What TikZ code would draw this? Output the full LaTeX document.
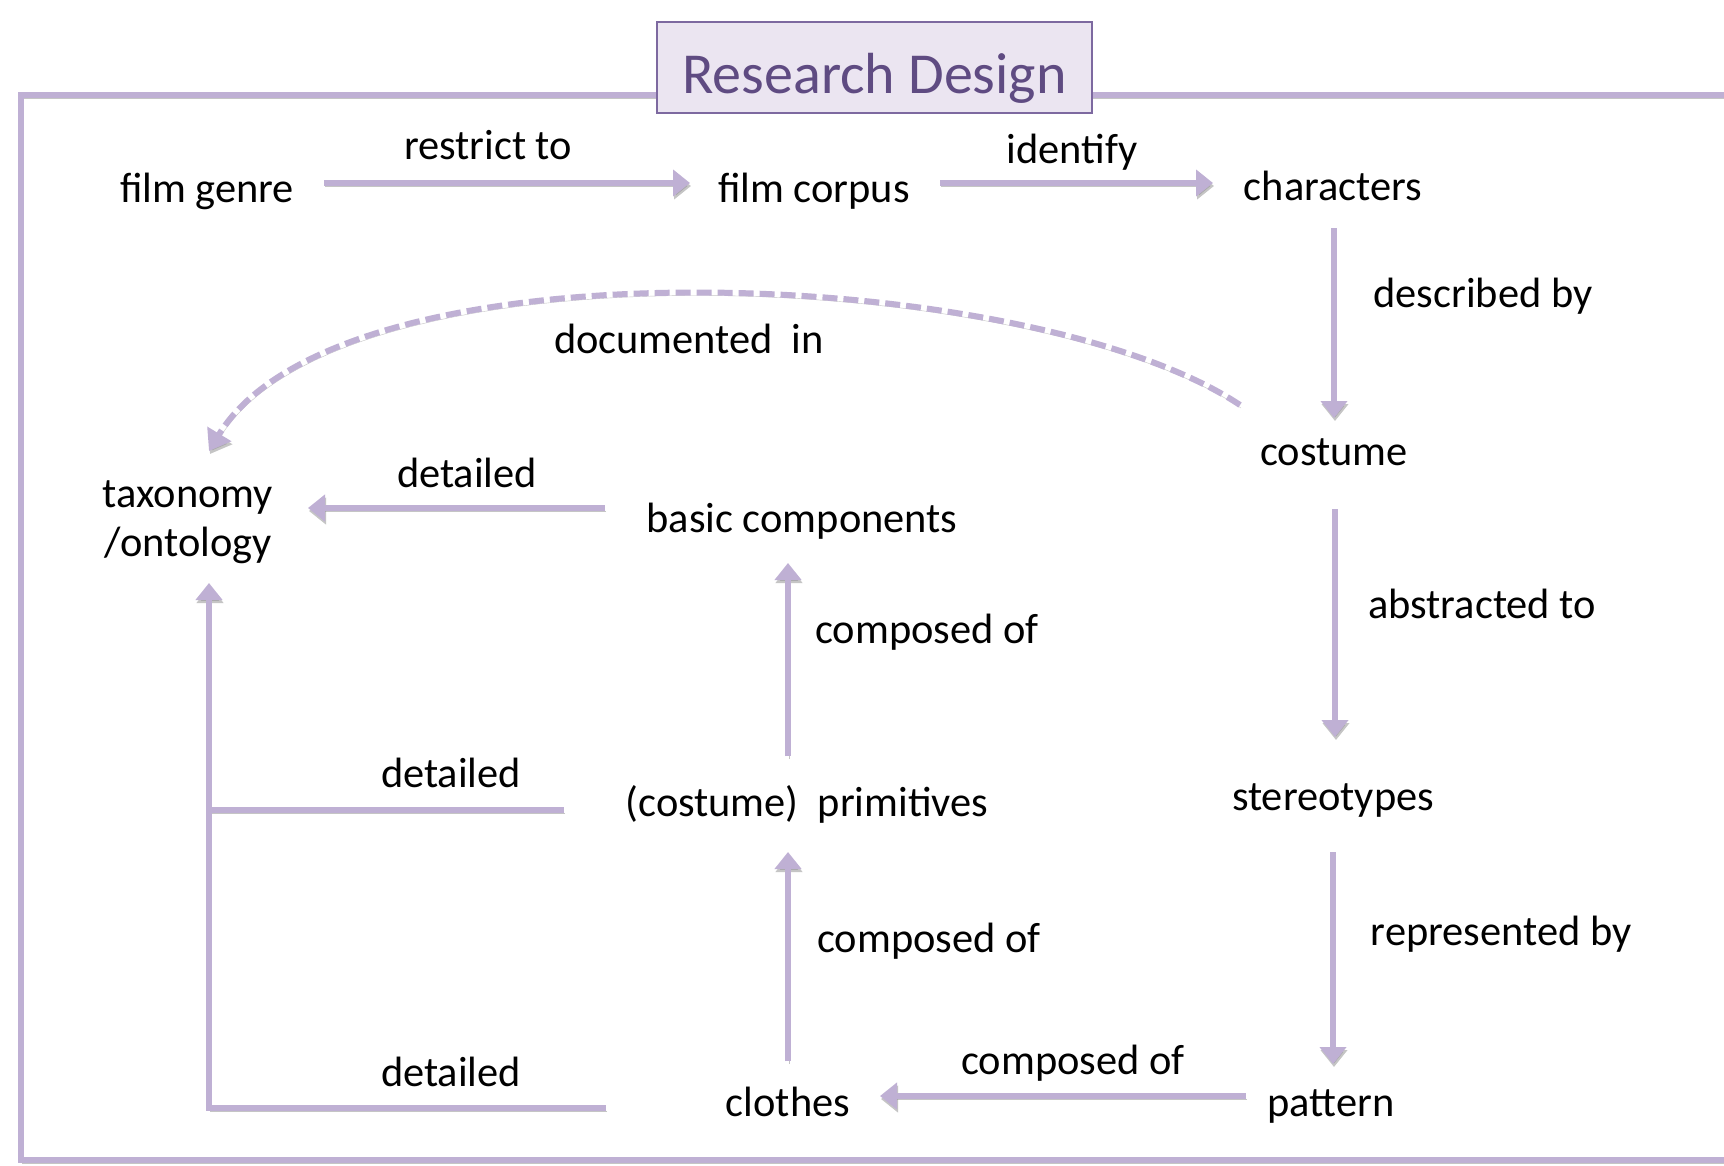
\documentclass[tikz,border=0pt]{standalone}
\usepackage{fontspec}
\setmainfont{Carlito}
\usetikzlibrary{arrows.meta,calc}
\definecolor{lav}{RGB}{191,176,212}
\definecolor{titlefill}{RGB}{235,229,241}
\definecolor{titledraw}{RGB}{125,105,160}
\definecolor{titletext}{RGB}{95,75,130}
\begin{document}
\begin{tikzpicture}[x=1pt,y=-1pt,
  lbl/.style={inner sep=0pt, text height=33pt, text depth=7.5pt, font=\fontsize{42.4}{50}\selectfont},
  shad/.style={preaction={draw=black!45, opacity=0.5, transform canvas={shift={(1pt,-3pt)}}}},
  conn/.style={draw=lav, line width=5.5pt, shad},
  arr/.style={conn, -{Triangle[length=17pt,width=26pt]}},
  dasharr/.style={draw=lav, line width=6pt, shad, dash pattern=on 15pt off 6pt, -{Triangle[length=20pt,width=27pt]}},
]
\useasboundingbox (0,0) rectangle (1724,1165);
\fill[white] (0,0) rectangle (1724,1165);
% frame
\draw[conn] (21,95) rectangle (1760,1160);
% title
\node[draw=titledraw, fill=titlefill, line width=2pt, minimum width=435pt, minimum height=91pt, inner sep=0pt, text height=60pt, text depth=8pt, text=titletext, font=\fontsize{58}{62}\selectfont] (title) at (874.5,67.5) {Research Design};

% main nodes
\node[lbl] (genre) at (207,190) {film genre};
\node[lbl] (corpus) at (814,190) {film corpus};
\node[lbl] (chars) at (1333,188) {characters};
\node[lbl] (costume) at (1334,453) {costume};
\node[lbl] (stereo) at (1333,798) {stereotypes};
\node[lbl] (pattern) at (1331,1104) {pattern};
\node[lbl] (clothes) at (788,1104) {clothes};
\node[lbl] (prim) at (807,804) {(costume)~~primitives};
\node[lbl] (basic) at (802,520) {basic components};
\node[lbl] (tax1) at (188,495) {taxonomy};
\node[lbl] (tax2) at (188,544) {/ontology};

% labels
\node[lbl] (lrestrict) at (488,147) {restrict to};
\node[lbl] (lidentify) at (1072,151) {identify};
\node[lbl] (ldescribed) at (1483,295) {described by};
\node[lbl] (ldocumented) at (689,341) {documented~~in};
\node[lbl] (labstracted) at (1482,606) {abstracted to};
\node[lbl] (lrepresented) at (1501,933) {represented by};
\node[lbl] (lcompB) at (1073,1062) {composed of};
\node[lbl] (lcompM) at (929,940) {composed of};
\node[lbl] (lcompU) at (927,631) {composed of};
\node[lbl] (ldetT) at (467,475) {detailed};
\node[lbl] (ldetM) at (451,775) {detailed};
\node[lbl] (ldetB) at (451,1074) {detailed};

% connectors
\draw[arr] ($(genre)+(117,-7)$) -- ($(corpus)+(-124,-7)$);
\draw[arr] ($(corpus)+(126,-7)$) -- ($(chars)+(-120,-5)$);
\draw[arr] ($(chars)+(1,40)$) -- ($(costume)+(0,-35)$);
\draw[arr] ($(costume)+(1,56)$) -- ($(stereo)+(2,-61)$);
\draw[arr] ($(stereo)+(0,54)$) -- ($(pattern)+(2,-40)$);
\draw[arr] ($(pattern)+(-85,-8)$) -- ($(clothes)+(92,-8)$);
\draw[arr] ($(clothes)+(0,-43)$) -- ($(prim)+(-19,48)$);
\draw[arr] ($(prim)+(-19,-48)$) -- ($(basic)+(-14,43)$);
\draw[arr] ($(basic)+(-197,-12)$) -- ($(tax1)+(120,13)$);
\draw[conn] ($(prim)+(-243,6)$) -- ($(tax2)+(21,266)$);
\draw[arr] ($(clothes)+(-182,4)$) -| ($(tax2)+(21,39)$);
\coordinate (dc1) at (1030,265);
\coordinate (dc2) at (340,235);
\draw[dasharr] ($(costume)+(-94,-48)$) .. controls (dc1) and (dc2) .. ($(tax1)+(21,-44)$);
\end{tikzpicture}
\end{document}
